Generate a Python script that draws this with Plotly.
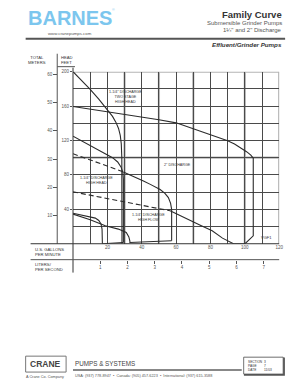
import plotly.graph_objects as go

# ---------------- data (GPM vs total head, feet) ----------------
two_stage_gpm = [0, 5, 10, 15, 20, 23, 25, 26.5, 27.5, 28.1, 28.4, 28.5, 28.5]
two_stage_ft = [200, 190, 179.5, 168, 156, 148, 141, 134, 126, 116, 100, 60, 0]

dis2_gpm = [0, 10, 20, 30, 40, 50, 60, 70, 80, 86, 90, 94, 98, 101, 103.5, 104.9, 104.9, 100.1]
dis2_ft = [159.5, 156.5, 153.5, 150.5, 147.5, 144, 140.5, 133.5, 126.6, 123, 119.8, 116, 111, 107, 103, 99.5, 9.2, 0]

hh_top_gpm = [0, 10, 20, 23, 26, 28, 29, 29.3, 29.3]
hh_top_ft = [125, 114.5, 104, 100, 95, 89, 83, 75, 1.5]

hh_low_gpm = [0, 5, 10, 13, 15, 16.3, 16.9, 17.1, 17.1, 29.3]
hh_low_ft = [35.5, 33.5, 31.5, 29.8, 27, 23, 17, 10, 0, 1.5]

hf_dash_gpm = [0, 10, 20, 29.3]
hf_dash_ft = [104.6, 97.5, 90.5, 83.5]
hf_top_gpm = [29.3, 38.2, 41, 45, 50.7, 53.5, 55.5, 56.8, 57.4, 57.4]
hf_top_ft = [83.5, 76, 73, 69, 63, 58.5, 53.6, 47, 40, 3.5]

hf_low_gpm = [0, 10, 18.8, 26.4, 31, 32.5, 33.1, 33.1, 57.4]
hf_low_ft = [34.5, 28, 21, 17, 13, 8, 3, 1.5, 3.5]

d2_low_dash_gpm = [0, 10, 20, 30, 40, 50, 56.5]
d2_low_dash_ft = [60.3, 56.4, 52.5, 48.6, 44.7, 40.8, 38.3]
d2_low_gpm = [56.5, 65, 75, 81, 87, 93.4, 100.1]
d2_low_ft = [38.3, 29.8, 20.5, 15, 6.5, 0, 0]

feet_ticks = [40, 80, 120, 160, 200]
meter_ticks = [10, 20, 30, 40, 50, 60]
gpm_ticks = [20, 40, 60, 80, 100, 120]
lps_ticks = [1, 2, 3, 4, 5, 6, 7]
grey_gpm_lines = [30, 50, 70, 100, 120]
grey_ft_lines = [100, 200]

W, H = 298, 386
FONT = "Liberation Sans, Arial, sans-serif"
INK = "#333333"
TICK = "#555555"


def px(x):
    return x / W


def py(y):
    return 1 - y / H


fig = go.Figure()

solid = dict(color="#2b2b2b", width=1.1)
dashed = dict(color="#2b2b2b", width=1.1, dash="5px,3px")

for xs, ys, ln in [
    (two_stage_gpm, two_stage_ft, solid),
    (dis2_gpm, dis2_ft, solid),
    (hh_top_gpm, hh_top_ft, solid),
    (hh_low_gpm, hh_low_ft, solid),
    (hf_dash_gpm, hf_dash_ft, dashed),
    (hf_top_gpm, hf_top_ft, solid),
    (hf_low_gpm, hf_low_ft, solid),
    (d2_low_dash_gpm, d2_low_dash_ft, dashed),
    (d2_low_gpm, d2_low_ft, solid),
]:
    fig.add_trace(go.Scatter(x=xs, y=ys, mode="lines", line=ln,
                             hoverinfo="skip", showlegend=False, cliponaxis=False))

# helper traces so secondary axes are drawn
fig.add_trace(go.Scatter(x=[0], y=[0], yaxis="y2", mode="markers",
                         marker=dict(opacity=0), hoverinfo="skip", showlegend=False))
fig.add_trace(go.Scatter(x=[0], y=[0], xaxis="x2", mode="markers",
                         marker=dict(opacity=0), hoverinfo="skip", showlegend=False))

xdom = [px(74), px(283)]
ydom = [py(243), py(70)]
GRID = "#4a4a4a"

fig.update_layout(
    width=W, height=H, autosize=False,
    margin=dict(l=0, r=0, t=0, b=0),
    paper_bgcolor="white", plot_bgcolor="white",
    font=dict(family=FONT, color=INK, size=5),
    xaxis=dict(domain=xdom, range=[0, 120], tickvals=gpm_ticks,
               ticktext=[str(v) for v in gpm_ticks], ticks="", showline=False,
               showgrid=True, gridcolor=GRID, gridwidth=0.8, zeroline=False,
               minor=dict(dtick=10, showgrid=True, gridcolor=GRID, gridwidth=0.8),
               tickfont=dict(size=4.5, color=TICK)),
    yaxis=dict(domain=ydom, range=[0, 200], tickvals=feet_ticks,
               ticktext=[str(v) for v in feet_ticks], ticks="outside", ticklen=2,
               tickcolor=TICK, showline=False,
               showgrid=True, gridcolor=GRID, gridwidth=0.8, zeroline=False,
               minor=dict(dtick=20, showgrid=True, gridcolor=GRID, gridwidth=0.8),
               tickfont=dict(size=4.5, color=TICK)),
    yaxis2=dict(overlaying="y", anchor="free", position=px(58), side="left",
                range=[0, 200 * 0.3048], tickvals=meter_ticks,
                ticktext=[str(v) for v in meter_ticks], ticks="outside", ticklen=4,
                tickcolor=TICK, showgrid=False, zeroline=False, showline=False,
                tickfont=dict(size=4.5, color=TICK)),
    xaxis2=dict(overlaying="x", anchor="free", position=py(259), side="bottom",
                domain=xdom, range=[0, 120 / 15.850323], tickvals=lps_ticks,
                ticktext=[str(v) for v in lps_ticks], ticks="outside", ticklen=3,
                tickcolor=TICK, showgrid=False, zeroline=False, showline=False,
                tickfont=dict(size=4.5, color=TICK)),
)

shapes = []

for g in grey_gpm_lines:
    shapes.append(dict(type="line", xref="x", yref="y", x0=g, x1=g, y0=0, y1=200,
                       layer="below", line=dict(color="#b5b5b5", width=2.2)))
for g in grey_ft_lines:
    shapes.append(dict(type="line", xref="x", yref="y", x0=0, x1=120, y0=g, y1=g,
                       layer="below", line=dict(color="#b5b5b5", width=2.2)))


def pline(x0, y0, x1, y1, color="#444", width=1):
    shapes.append(dict(type="line", xref="paper", yref="paper",
                       x0=px(x0), y0=py(y0), x1=px(x1), y1=py(y1),
                       line=dict(color=color, width=width)))


pline(26, 37, 289, 37, "#555", 2)          # header rule
pline(58, 52, 58, 243, "#555", 1)          # meters axis
pline(58, 65, 76, 65, "#555", 1)           # heading rule
pline(74, 66, 74, 272, "#333", 1)          # feet axis
pline(31, 243, 283, 243, "#333", 1)        # gpm axis
pline(31, 259, 283, 259, "#555", 1)        # l/s axis
pline(74, 370, 245, 370, "#888", 2)        # footer rule
shapes.append(dict(type="rect", xref="paper", yref="paper",
                   x0=px(26), x1=px(67), y0=py(372), y1=py(356),
                   line=dict(color="#777", width=1)))
shapes.append(dict(type="rect", xref="paper", yref="paper",
                   x0=px(248), x1=px(288), y0=py(375), y1=py(358),
                   line=dict(color="#555", width=1.5), fillcolor="#555"))
shapes.append(dict(type="rect", xref="paper", yref="paper",
                   x0=px(247), x1=px(287), y0=py(374), y1=py(357),
                   line=dict(color="#555", width=0.8), fillcolor="white"))
fig.update_layout(shapes=shapes)

ann = []


def text(x, y, s, size=5, xanchor="center", yanchor="middle", color=INK):
    ann.append(dict(xref="paper", yref="paper", x=px(x), y=py(y), text=s,
                    showarrow=False, xanchor=xanchor, yanchor=yanchor,
                    align=xanchor if xanchor != "center" else "center",
                    font=dict(family=FONT, size=size, color=color)))


text(26, 16, "<b>BARNES</b>", 20, "left", color="#7cc6ee")
text(111, 8, "®", 3.5, "left", color="#7cc6ee")
text(71, 31.5, "www.cranepumps.com", 4.3, color="#555")
text(288, 12.5, "<b>Family Curve</b>", 9.5, "right", color="#333")
text(288, 21.5, "Submersible Grinder Pumps", 6, "right", color="#555")
text(288, 28.5, "1¼\" and 2\" Discharge", 6, "right", color="#555")
text(288, 43, "<b><i>Effluent/Grinder Pumps</i></b>", 6.2, "right", color="#333")
text(38, 58.5, "TOTAL<br>METERS", 4.2)
text(60, 58.5, "HEAD<br>FEET", 4.2, "left")
text(33, 251.5, "U.S. GALLONS<br>PER MINUTE", 4.2, "left")
text(33, 266.5, "LITERS/<br>PER SECOND", 4.2, "left")

text(127, 95.5, "1-1/4\" DISCHARGE<br>TWO STAGE<br>HIGH HEAD", 3.7)
text(180, 164, "2\" DISCHARGE", 3.7)
text(97.5, 179.5, "1-1/4\" DISCHARGE<br>HIGH HEAD", 3.7)
text(151, 217, "1-1/4\" DISCHARGE<br>HIGH FLOW", 3.7)
text(278, 241.5, "VGF1", 4, "right", "bottom")

text(46.5, 364, "<b>CRANE</b>", 8.5, color="#444")
text(46, 376.5, "A Crane Co. Company", 3.8, color="#555")
text(74, 363.5, "PUMPS &amp; SYSTEMS", 6.3, "left", color="#444")
text(74, 375.5, "USA: (937) 778-8947  •  Canada: (905) 457-6223  •  International: (937) 615-3588",
     3.8, "left", color="#555")
text(249, 365.5, "SECTION<br>PAGE<br>DATE", 3.2, "left", color="#333")
text(266, 365.5, "3<br>7<br>11/03", 3.2, "left", color="#333")

fig.update_layout(annotations=ann)

fig.write_html("out.html")
